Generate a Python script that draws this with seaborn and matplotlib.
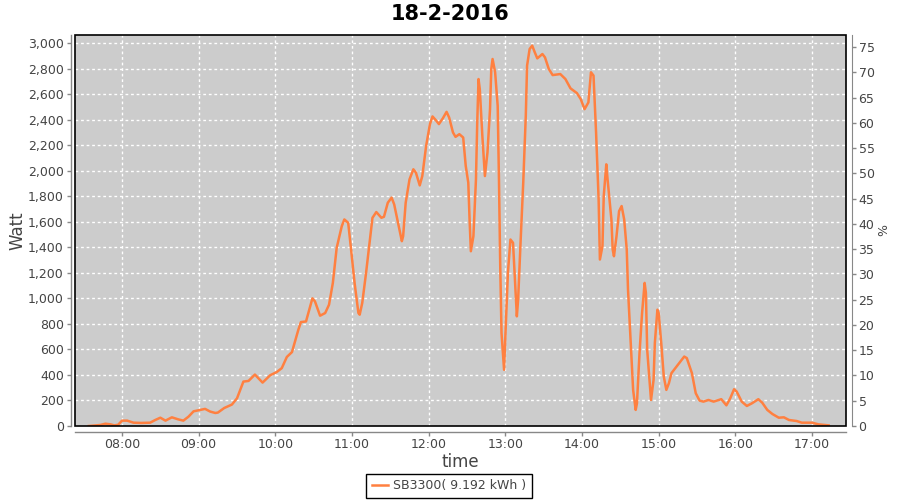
import matplotlib
matplotlib.use("Agg")
import matplotlib.pyplot as plt
import matplotlib.dates as mdates
import matplotlib.patches as mpatches
from matplotlib.ticker import FuncFormatter
import pandas as pd
import seaborn as sns

title = "18-2-2016"
series_name = "SB3300( 9.192 kWh )"

times = ["07:34", "07:43", "07:47", "07:51", "07:54", "07:57", "08:00", "08:04", "08:09", "08:15",
         "08:22", "08:26", "08:30", "08:34", "08:39", "08:44", "08:48", "08:52", "08:56", "09:01",
         "09:05", "09:09", "09:13", "09:15", "09:20", "09:26", "09:30", "09:35", "09:39", "09:44",
         "09:50", "09:56", "10:01", "10:05", "10:09", "10:13", "10:18", "10:20", "10:24", "10:29",
         "10:31", "10:35", "10:39", "10:42", "10:45", "10:48", "10:52", "10:54", "10:57", "10:59",
         "11:02", "11:05", "11:06", "11:08", "11:11", "11:14", "11:16", "11:19", "11:23", "11:25",
         "11:28", "11:31", "11:33", "11:36", "11:39", "11:40", "11:42", "11:45", "11:48", "11:50",
         "11:53", "11:55", "11:58", "12:01", "12:03", "12:06", "12:08", "12:11", "12:14", "12:16",
         "12:19", "12:21", "12:24", "12:27", "12:29", "12:31", "12:32", "12:33", "12:35", "12:37",
         "12:38", "12:39", "12:40", "12:42", "12:44", "12:46", "12:48", "12:49", "12:50", "12:52",
         "12:54", "12:55", "12:56", "12:57", "12:59", "13:00", "13:02", "13:04", "13:06", "13:08",
         "13:09", "13:10", "13:12", "13:14", "13:16", "13:17", "13:19", "13:21", "13:23", "13:25",
         "13:29", "13:31", "13:34", "13:37", "13:43", "13:47", "13:51", "13:56", "13:59", "14:02",
         "14:05", "14:07", "14:09", "14:11", "14:13", "14:14", "14:16", "14:17", "14:19", "14:20",
         "14:23", "14:24", "14:25", "14:27", "14:29", "14:31", "14:33", "14:35", "14:36", "14:38",
         "14:40", "14:42", "14:43", "14:45", "14:47", "14:49", "14:50", "14:51", "14:53", "14:54",
         "14:56", "14:57", "14:59", "15:00", "15:02", "15:04", "15:06", "15:08", "15:10", "15:15",
         "15:20", "15:22", "15:26", "15:29", "15:32", "15:35", "15:39", "15:43", "15:49", "15:53",
         "15:56", "15:59", "16:01", "16:05", "16:09", "16:13", "16:18", "16:21", "16:25", "16:29",
         "16:34", "16:38", "16:42", "16:48", "16:52", "17:00", "17:05", "17:13"]

watts = [0, 8, 18, 13, 5, 10, 42, 42, 26, 24,
         26, 47, 65, 42, 68, 52, 42, 73, 115, 126,
         134, 113, 102, 105, 141, 168, 217, 348, 353, 403,
         340, 398, 422, 453, 541, 579, 754, 814, 819, 1000,
         976, 864, 885, 950, 1121, 1396, 1566, 1618, 1592, 1408,
         1121, 885, 872, 964, 1200, 1461, 1631, 1676, 1631, 1639,
         1749, 1789, 1736, 1592, 1448, 1487, 1749, 1932, 2011, 1985,
         1885, 1958, 2194, 2365, 2425, 2391, 2365, 2409, 2461, 2417,
         2300, 2265, 2286, 2260, 2037, 1906, 1618, 1369, 1487, 1932,
         2378, 2718, 2639, 2273, 1958, 2142, 2482, 2797, 2875, 2771,
         2508, 1932, 1251, 728, 440, 702, 1200, 1461, 1435, 1042,
         859, 990, 1461, 1906, 2431, 2823, 2953, 2980, 2928, 2880,
         2914, 2888, 2797, 2749, 2757, 2718, 2645, 2608, 2561, 2482,
         2535, 2771, 2745, 2300, 1775, 1304, 1409, 1801, 2050, 1932,
         1618, 1383, 1330, 1487, 1683, 1723, 1618, 1383, 1068, 676,
         283, 126, 178, 571, 885, 1121, 1042, 597, 335, 204,
         361, 650, 911, 885, 650, 387, 283, 335, 414, 479,
         544, 532, 414, 257, 199, 191, 204, 191, 210, 162,
         217, 288, 270, 191, 157, 178, 210, 183, 126, 94,
         65, 68, 47, 39, 26, 26, 13, 5]

left_ticks = list(range(0, 3001, 200))
right_ticks = list(range(0, 76, 5))

df = pd.DataFrame({"time": pd.to_datetime(["2016-02-18 " + t for t in times]),
                   "Watt": watts})

plt.rcParams["font.family"] = ["DejaVu Sans"]
fig = plt.figure(figsize=(9, 5), dpi=100)
fig.patch.set_facecolor("white")
ax = fig.add_axes([75 / 900, 1 - 426 / 500, (846 - 75) / 900, (426 - 35) / 500])
ax.set_facecolor("#CCCCCC")

sns.lineplot(data=df, x="time", y="Watt", ax=ax, color="#FF8040", linewidth=1.8,
             label=series_name)

x0 = pd.Timestamp("2016-02-18 07:23:12")
x1 = pd.Timestamp("2016-02-18 17:26:36")
ax.set_xlim(x0, x1)
ax.set_ylim(0, 3063)
ax.set_yticks(left_ticks)
ax.yaxis.set_major_formatter(FuncFormatter(lambda v, p: f"{int(v):,}"))
ax.xaxis.set_major_locator(mdates.HourLocator())
ax.xaxis.set_major_formatter(mdates.DateFormatter("%H:%M"))

ax.grid(True, color="white", linestyle=(0, (2, 2)), linewidth=1)
ax.set_axisbelow(True)

tick_col = "#444444"
axis_col = "#888888"
for s in ["top", "right"]:
    ax.spines[s].set_visible(False)
ax.spines["left"].set_position(("outward", 3))
ax.spines["bottom"].set_position(("outward", 4))
for s in ["left", "bottom"]:
    ax.spines[s].set_color(axis_col)
    ax.spines[s].set_linewidth(1)
ax.tick_params(axis="both", colors=axis_col, labelcolor=tick_col, length=3, width=1,
               labelsize=9, pad=2)
ax.set_xlabel("time", fontsize=12, color=tick_col, labelpad=1)
ax.set_ylabel("Watt", fontsize=12, color=tick_col, labelpad=1)

frame = mpatches.Rectangle((0, 0), 1, 1, transform=ax.transAxes, fill=False,
                           edgecolor="black", linewidth=1.2, zorder=10, clip_on=False)
ax.add_patch(frame)

ax2 = ax.twinx()
ax2.set_ylim(0, 77.4)
ax2.set_yticks(right_ticks)
for s in ["top", "left", "bottom"]:
    ax2.spines[s].set_visible(False)
ax2.spines["right"].set_position(("outward", 4))
ax2.spines["right"].set_color(axis_col)
ax2.tick_params(axis="y", colors=axis_col, labelcolor=tick_col, length=3, width=1,
                labelsize=9, pad=2)
ax2.set_ylabel("%", fontsize=9, color=tick_col, labelpad=2)

handles, labels = ax.get_legend_handles_labels()
ax.get_legend().remove()
leg = fig.legend(handles, labels, loc="center", bbox_to_anchor=(449 / 900, 1 - 486 / 500),
                 frameon=True, fancybox=False, edgecolor="black", fontsize=9,
                 handlelength=1.3, handletextpad=0.4, borderpad=0.45, framealpha=1)
leg.get_frame().set_linewidth(1)
for t in leg.get_texts():
    t.set_color(tick_col)

fig.text(0.5, 1 - 14 / 500, title, ha="center", va="center", fontsize=15, fontweight="bold")

fig.savefig("out.png", dpi=100)
